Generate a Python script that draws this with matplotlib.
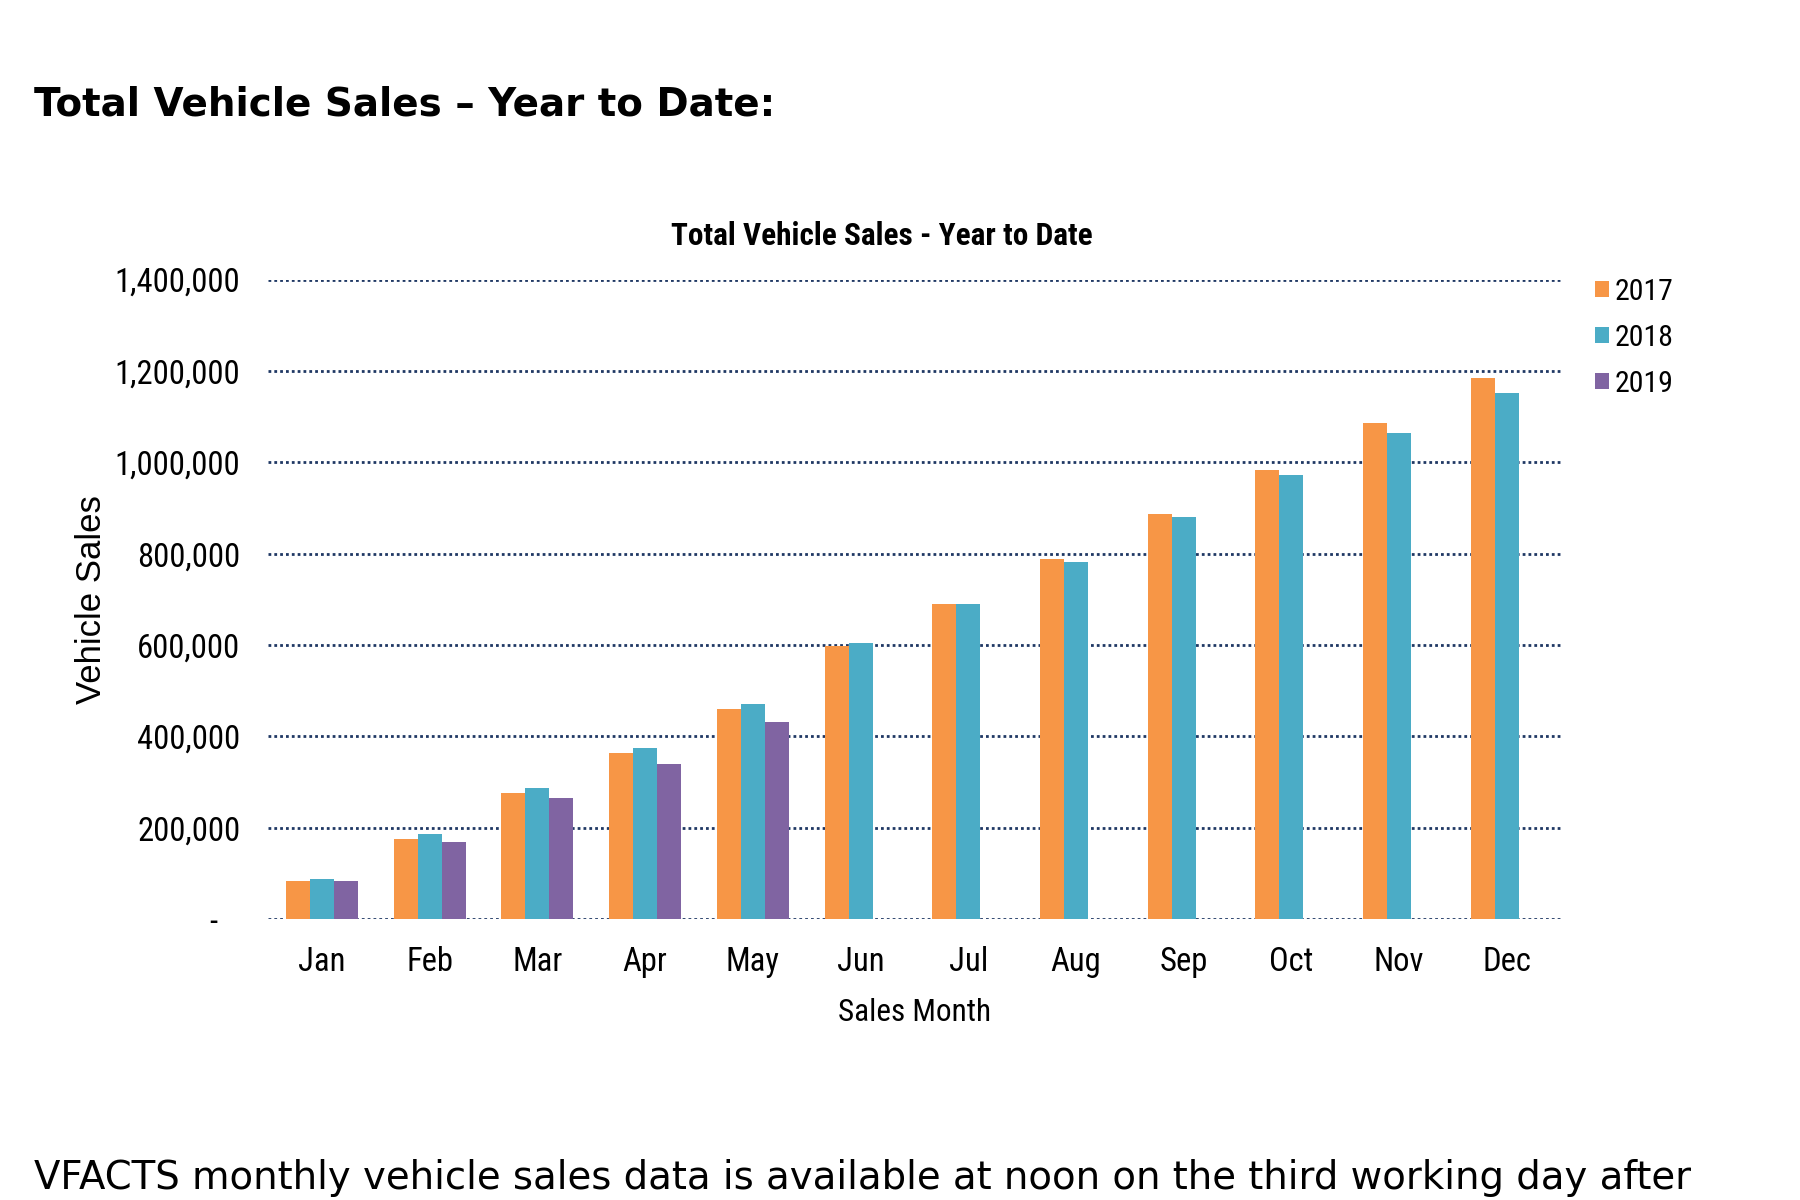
import matplotlib
matplotlib.use("Agg")
import matplotlib.pyplot as plt
import numpy as np
from matplotlib.ticker import FuncFormatter
from matplotlib import font_manager

months = ["Jan", "Feb", "Mar", "Apr", "May", "Jun", "Jul", "Aug", "Sep", "Oct", "Nov", "Dec"]
sales_2017 = [84000, 175000, 277000, 363000, 460000, 599000, 690000, 788000, 886000, 984000, 1087000, 1185000]
sales_2018 = [89000, 186000, 288000, 374000, 472000, 604000, 690000, 782000, 880000, 972000, 1065000, 1151000]
sales_2019 = [83000, 169000, 266000, 340000, 432000, np.nan, np.nan, np.nan, np.nan, np.nan, np.nan, np.nan]
series_names = ["2017", "2018", "2019"]
colors = ["#F79646", "#4BACC6", "#8064A2"]
y_ticks = [0, 200000, 400000, 600000, 800000, 1000000, 1200000, 1400000]

names = {f.name for f in font_manager.fontManager.ttflist}
cond_candidates = ["Liberation Sans Narrow", "Roboto Condensed", "Open Sans Condensed", "DejaVu Sans Condensed"]
cond = [n for n in cond_candidates if n in names]
if cond:
    NARROW = dict(family=[cond[0], "DejaVu Sans"])
else:
    NARROW = dict(family=["DejaVu Sans"], stretch="condensed")
REG = ["Liberation Sans", "DejaVu Sans"]

fig = plt.figure(figsize=(18, 12), dpi=100)
ax = fig.add_axes([0.149, 0.234, 0.718, 0.533])

x = np.arange(len(months))
w = 0.223
for i, (vals, name, c) in enumerate(zip([sales_2017, sales_2018, sales_2019], series_names, colors)):
    ax.bar(x + (i - 1) * w, vals, width=w, color=c, label=name, zorder=3)

ax.set_ylim(0, 1400000)
ax.set_xlim(-0.5, len(months) - 0.5)
ax.set_yticks(y_ticks)
ax.yaxis.set_major_formatter(FuncFormatter(lambda v, p: "-   " if v == 0 else f"{int(v):,}"))
ax.set_xticks(x)
ax.set_xticklabels(months)
ax.grid(axis="y", linestyle=(0, (1, 1.1)), color="#1F3864", linewidth=2.0, zorder=0)
ax.grid(axis="x", visible=False)
for s in ax.spines.values():
    s.set_visible(False)
ax.tick_params(axis="both", length=0)
ax.tick_params(axis="y", pad=20)
ax.tick_params(axis="x", pad=19)
for lbl in ax.get_yticklabels() + ax.get_xticklabels():
    lbl.set_fontproperties(font_manager.FontProperties(size=23.5, **NARROW))

ax.set_xlabel("Sales Month", fontsize=22.5, labelpad=15, **NARROW)
ax.set_ylabel("Vehicle Sales", family=REG, fontsize=25)
ax.yaxis.set_label_coords(-0.124, 0.5)

ax.set_title("Total Vehicle Sales - Year to Date", fontsize=22.5,
             fontweight="bold", pad=25, x=0.475, **NARROW)

ax.legend(loc="upper left", bbox_to_anchor=(1.006, 1.045), frameon=False,
          handlelength=0.45, handleheight=0.45, handletextpad=0.2,
          labelspacing=0.6, prop=font_manager.FontProperties(size=21.5, **NARROW))

fig.text(0.019, 0.9125, "Total Vehicle Sales \u2013 Year to Date:", family="DejaVu Sans",
         fontweight="bold", fontsize=28, va="center", ha="left")
fig.text(0.019, 0.009, "VFACTS monthly vehicle sales data is available at noon on the third working day after",
         family="DejaVu Sans", fontsize=27.8, va="baseline", ha="left")

fig.savefig("out.png", dpi=100, facecolor="white")
